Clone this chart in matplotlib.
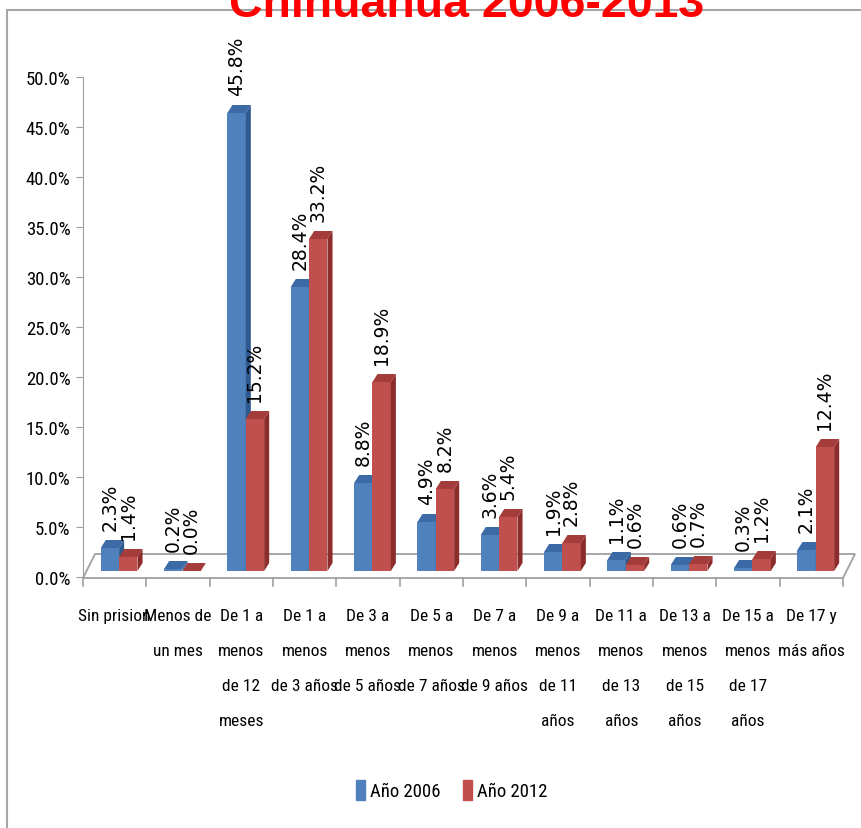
import matplotlib.pyplot as plt
from matplotlib.patches import Patch, Rectangle

NARROW = ['Roboto Condensed', 'Liberation Sans Narrow', 'Roboto', 'DejaVu Sans']

categories = ["Sin prision", "Menos de\nun mes", "De 1 a\nmenos\nde 12\nmeses",
              "De 1 a\nmenos\nde 3 años", "De 3 a\nmenos\nde 5 años",
              "De 5 a\nmenos\nde 7 años", "De 7 a\nmenos\nde 9 años",
              "De 9 a\nmenos\nde 11\naños", "De 11 a\nmenos\nde 13\naños",
              "De 13 a\nmenos\nde 15\naños", "De 15 a\nmenos\nde 17\naños",
              "De 17 y\nmás años"]
y2006 = [2.3, 0.2, 45.8, 28.4, 8.8, 4.9, 3.6, 1.9, 1.1, 0.6, 0.3, 2.1]
y2012 = [1.4, 0.0, 15.2, 33.2, 18.9, 8.2, 5.4, 2.8, 0.6, 0.7, 1.2, 12.4]
series = [("Año 2006", y2006), ("Año 2012", y2012)]
colors = [("#4f81bd", "#3c6aa6", "#2f5a8f"), ("#c0504d", "#a33c3a", "#8c2d2b")]

fig = plt.figure(figsize=(8.61, 8.29), dpi=100)
W, H = 861, 829
# chart border
fig.add_artist(Rectangle((7 / W, -0.05), 1.1, 1 - 11 / H + 0.05, transform=fig.transFigure,
                         fill=False, ec="#a6a6a6", lw=1.5))
fig.text(467 / W, 1 - 17 / H, "Chihuahua 2006-2013", color="#ff0000", fontsize=33.5,
         fontweight="bold", family=["Liberation Sans", "DejaVu Sans"], ha="center", va="baseline")

ax = fig.add_axes([83 / W, 1 - 578 / H, 760 / W, 500 / H])
ax.set_xlim(0, 12)
ax.set_ylim(0, 50)

# floor of the 3d box
fx, fy0, fy1 = 0.19, -0.1, 2.3
gray = "#a0a0a0"
ax.fill([0, 12, 12 + fx, fx], [fy0, fy0, fy1, fy1], color="white", ec=gray, lw=1.3, clip_on=False, zorder=1)
for i in range(13):
    ax.plot([i, i], [fy0, fy0 - 0.8], color=gray, lw=1.2, clip_on=False)

bw, off, dx, dy, base = 0.29, 0.28, 0.08, 0.8, 0.6
for s, (name, vals) in enumerate(series):
    front, top, side = colors[s]
    for i, v in enumerate(vals):
        x0 = i + off + s * bw
        x1 = x0 + bw
        y1 = base + v
        ax.fill([x0, x1, x1, x0], [base, base, y1, y1], color=front, lw=0, zorder=3)
        ax.fill([x0, x1, x1 + dx, x0 + dx], [y1, y1, y1 + dy, y1 + dy], color=top, lw=0, zorder=3)
        ax.fill([x1, x1 + dx, x1 + dx, x1], [base, base + dy, y1 + dy, y1], color=side, lw=0, zorder=3)
        ax.text((x0 + x1) / 2, y1 + dy + 1.0, f"{v:.1f}%", rotation=90, ha="center", va="bottom",
                fontsize=13.5, family="DejaVu Sans", clip_on=False, zorder=4)

for i, c in enumerate(categories):
    ax.text(i + 0.5, -3.1, c, ha="center", va="top", fontsize=12.5, family=NARROW,
            linespacing=2.67, clip_on=False)

ax.set_xticks([])
ax.set_yticks(range(0, 51, 5))
ax.set_yticklabels([f"{t:.1f}%" for t in range(0, 51, 5)], family=NARROW, fontsize=13.5)
ax.tick_params(axis="y", length=5, color=gray, pad=4)
for k in ["top", "right", "bottom"]:
    ax.spines[k].set_visible(False)
ax.spines["left"].set_color(gray)
ax.spines["left"].set_bounds(fy0, 50)
ax.patch.set_visible(False)

handles = [Patch(color=colors[s][0], label=name) for s, (name, _) in enumerate(series)]
fig.legend(handles=handles, loc="center", bbox_to_anchor=(452 / W, 1 - 791 / H), ncol=2,
           frameon=False, handlelength=0.45, handleheight=1.3, handletextpad=0.3,
           columnspacing=1.2, prop={"family": NARROW, "size": 13.5})

fig.savefig("out.png", dpi=100)
